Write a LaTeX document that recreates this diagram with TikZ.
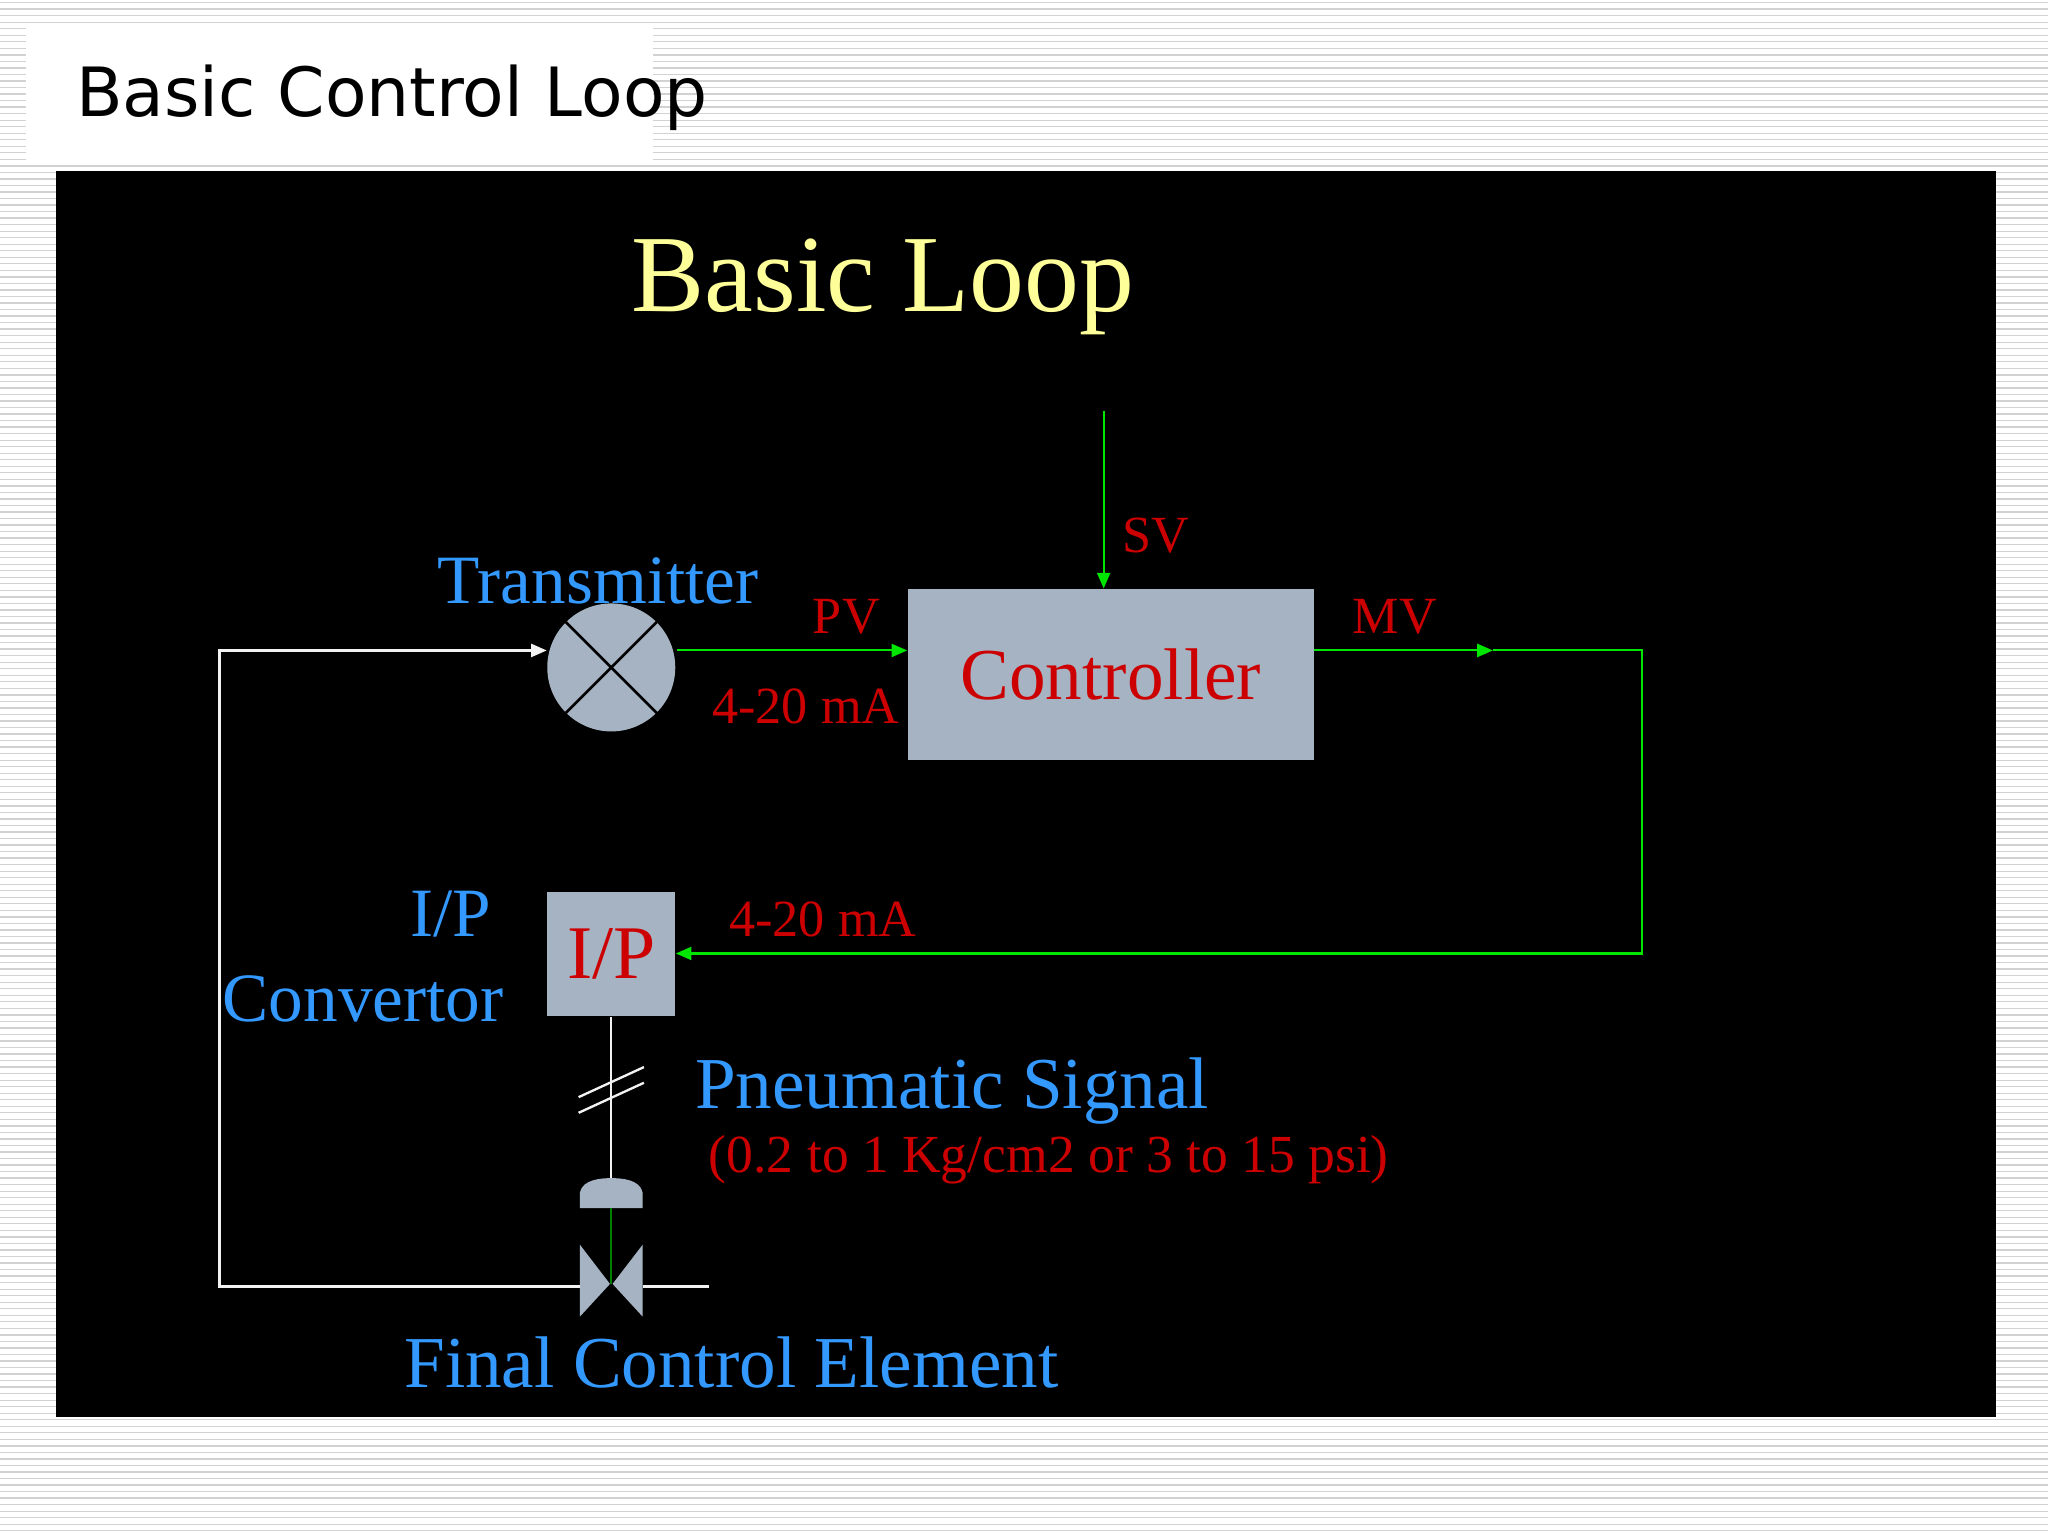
\documentclass[tikz,border=0pt]{standalone}
\usepackage{fontspec}
\setmainfont{Liberation Serif}
\newfontfamily\titlefont{DejaVu Sans}
\usetikzlibrary{arrows.meta}
\definecolor{ored}{HTML}{CC0000}
\definecolor{oblue}{HTML}{3399FF}
\definecolor{ogreen}{HTML}{00E600}
\definecolor{ogrey}{HTML}{A6B3C3}
\definecolor{oyel}{HTML}{FFFF99}
\tikzset{
  sig/.style={draw=ogreen, line width=0.8pt},
  sigarrow/.style={sig, -{Triangle[length=6pt,width=5pt]}},
  wline/.style={draw=white!90!gray, line width=0.9pt},
  gbox/.style={fill=ogrey, draw=none, inner sep=0pt},
  redtxt/.style={text=ored, inner sep=0pt},
  bluetxt/.style={text=oblue, inner sep=0pt},
}
\begin{document}
\begin{tikzpicture}[x=0.5pt,y=-0.5pt]
\useasboundingbox (0,0) rectangle (1568,1176);
\fill[white] (0,0) rectangle (1568,1176);
\foreach \yy in {2,7,...,1176} \draw[gray!35, line width=0.5pt] (0,\yy) -- (1568,\yy);
\fill[white] (20,20) rectangle (500,125);
\node[anchor=west, inner sep=0pt, font=\titlefont\fontsize{26}{30}\selectfont] (title) at (58,75) {Basic Control Loop};
\fill[black] (43,131) rectangle (1528,1085);
\node[text=oyel, inner sep=0pt, font=\fontsize{42}{46}\selectfont] (bl) at (676,220) {Basic Loop};
% controller
\node[gbox, minimum width=155.5pt, minimum height=65.5pt, redtxt, font=\fontsize{28}{32}\selectfont] (ctrl) at (850.5,516.5) {Controller};
\coordinate (svtop) at (845,315);
\draw[sigarrow] (svtop) -- (ctrl.north -| svtop);
\node[redtxt, font=\fontsize{20}{24}\selectfont] (sv) at (885,410) {SV};
% transmitter
\node[circle, fill=ogrey, minimum size=49pt, inner sep=0pt] (tx) at (468,511) {};
\draw[black, line width=1pt] (tx.45) -- (tx.225) (tx.135) -- (tx.315);
\node[bluetxt, font=\fontsize{26.5}{30}\selectfont] (txl) at (458,445) {Transmitter};
\coordinate (txo) at (518,498);
\draw[sigarrow] (txo) -- (ctrl.west |- txo);
\node[redtxt, font=\fontsize{20}{24}\selectfont] (pv) at (648,472) {PV};
\node[redtxt, font=\fontsize{20}{24}\selectfont] (ma1) at (617,541) {4-20 mA};
% MV loop
\coordinate (mvs) at (1006,498);
\coordinate (mva) at (1143,498);
\coordinate (c1) at (1257,498);
\coordinate (c2) at (1257,730);
\draw[sigarrow] (mvs) -- (mva);
\node[redtxt, font=\fontsize{20}{24}\selectfont] (mv) at (1068,472) {MV};
% I/P
\node[gbox, minimum width=49pt, minimum height=47.5pt, redtxt, font=\fontsize{29}{32}\selectfont] (ip) at (468,730.5) {I/P};
\draw[sigarrow] (mva) -- (c1) -- (c2) -- (ip.east |- c2);
\node[redtxt, font=\fontsize{20}{24}\selectfont] (ma2) at (630,704) {4-20 mA};
\node[bluetxt, font=\fontsize{26.5}{30}\selectfont] (ipl1) at (345,700) {I/P};
\node[bluetxt, font=\fontsize{26.5}{30}\selectfont] (ipl2) at (278,765) {Convertor};
% pneumatic
\coordinate (act) at (468,903);
\draw[wline] (ip.south) -- (act);
\draw[wline] (443,840) -- (493,817) (443,852) -- (493,829);
\fill[ogrey] (444,925) -- (444,913) .. controls (446,903) and (460,902) .. (468,902) .. controls (476,902) and (490,903) .. (492,913) -- (492,925) -- cycle;
\coordinate (vc) at (468,983);
\draw[draw=green!50!black, line width=0.7pt] (468,925) -- (vc);
\fill[ogrey] (444,953) -- (444,1008) -- (467,983) -- cycle;
\fill[ogrey] (492,953) -- (492,1008) -- (469,983) -- cycle;
\coordinate (vl) at (444,985);
\coordinate (vr) at (492,985);
\coordinate (pend) at (543,985);
\coordinate (lc1) at (168,985);
\coordinate (lc2) at (168,498);
\draw[wline] (vr) -- (pend);
\draw[wline, -{Triangle[length=6pt,width=5pt]}] (vl) -- (lc1) -- (lc2) -- (tx.west |- lc2);
\node[bluetxt, font=\fontsize{28}{32}\selectfont] (pn) at (729,835) {Pneumatic Signal};
\node[redtxt, font=\fontsize{20.5}{24}\selectfont] (pr) at (803,888) {(0.2 to 1 Kg/cm2 or 3 to 15 psi)};
\node[bluetxt, font=\fontsize{28}{32}\selectfont] (fce) at (560,1043) {Final Control Element};
\end{tikzpicture}
\end{document}
